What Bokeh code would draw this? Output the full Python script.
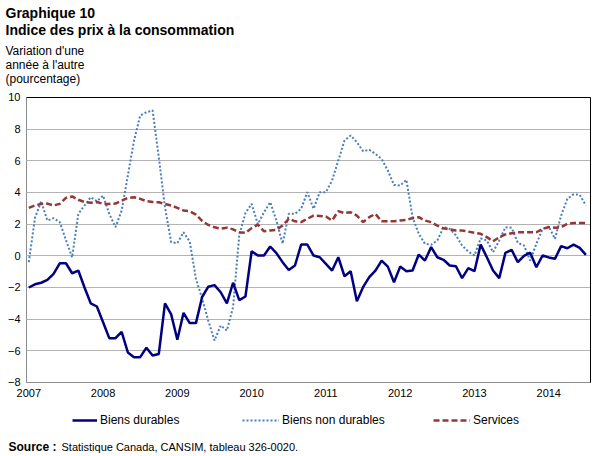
from bokeh.plotting import figure
from bokeh.models import Range1d, FixedTicker, Legend, LegendItem, Label, LinearAxis
from bokeh.embed import file_html
from bokeh.resources import INLINE
import pandas as pd

# Monthly data, January 2007 to July 2014 (year-over-year % change)
months = [str(m) for m in pd.period_range("2007-01", "2014-07", freq="M")]

biens_durables = [
    -2.0, -1.8, -1.7, -1.52, -1.14, -0.47, -0.47, -1.1, -0.93, -2.0, -3.0, -3.2,
    -4.2, -5.2, -5.2, -4.8, -6.1, -6.4, -6.4, -5.8, -6.3, -6.2, -3.0, -3.7,
    -5.3, -3.6, -4.25, -4.25, -2.6, -1.95, -1.85, -2.3, -3.0, -1.7, -2.8, -2.57,
    0.29, 0.02, 0.02, 0.59, 0.17, -0.4, -0.89, -0.61, 0.71, 0.71, 0.02, -0.09,
    -0.51, -0.93, -0.09, -1.29, -0.97, -2.87, -1.98, -1.35, -0.93, -0.3, -0.68, -1.67,
    -0.68, -0.97, -0.93, 0.08, -0.3, 0.55, -0.09, -0.25, -0.61, -0.66, -1.41, -0.78,
    -0.97, 0.71, -0.09, -0.93, -1.41, 0.19, 0.38, -0.4, 0.0, 0.2, -0.72, 0.02,
    -0.1, -0.19, 0.61, 0.48, 0.71, 0.5, 0.06,
]

biens_non_durables = [
    -0.4, 2.4, 3.45, 2.23, 2.38, 2.13, 1.0, -0.1, 2.65, 3.18, 3.7, 3.45,
    3.8, 2.65, 1.81, 2.86, 5.07, 7.28, 8.86, 9.07, 9.18, 6.23, 3.07, 0.86,
    0.8, 1.49, 0.9, -1.45, -2.7, -4.1, -5.35, -4.4, -4.72, -3.24, 1.3, 2.7,
    3.28, 2.0, 2.75, 3.39, 2.23, 0.76, 2.65, 2.65, 2.97, 4.02, 2.97, 4.02,
    4.02, 4.76, 6.02, 7.28, 7.6, 7.18, 6.61, 6.7, 6.44, 6.12, 5.39, 4.48,
    4.44, 4.8, 2.44, 1.39, 0.76, 0.7, 0.97, 1.81, 1.7, 1.3, 0.65, 0.27,
    0.02, 1.1, 0.97, 0.23, 0.97, 1.81, 1.77, 0.82, 0.65, -0.3, 0.76, 1.7,
    1.86, 1.07, 2.54, 3.6, 3.88, 3.86, 3.18,
]

services = [
    3.03, 3.18, 3.28, 3.3, 3.18, 3.28, 3.66, 3.75, 3.54, 3.4, 3.35, 3.4,
    3.28, 3.28, 3.3, 3.49, 3.66, 3.7, 3.6, 3.45, 3.4, 3.38, 3.28, 3.18,
    3.03, 2.86, 2.82, 2.6, 2.2, 1.95, 1.8, 1.72, 1.78, 1.67, 1.49, 1.45,
    1.75, 1.97, 1.55, 1.6, 1.64, 1.91, 2.34, 2.18, 2.13, 2.34, 2.54, 2.52,
    2.48, 2.23, 2.82, 2.7, 2.75, 2.54, 2.13, 2.44, 2.65, 2.18, 2.18, 2.18,
    2.23, 2.27, 2.38, 2.44, 2.23, 2.13, 1.91, 1.74, 1.68, 1.6, 1.6, 1.53,
    1.45, 1.39, 1.18, 0.92, 1.18, 1.35, 1.43, 1.49, 1.49, 1.49, 1.49, 1.7,
    1.81, 1.77, 1.81, 2.02, 2.08, 2.08, 2.08,
]

year_labels = ["2007", "2008", "2009", "2010", "2011", "2012", "2013", "2014"]
y_ticks = [-8, -6, -4, -2, 0, 2, 4, 6, 8, 10]
series_names = ["Biens durables", "Biens non durables", "Services"]
title_lines = ["Graphique 10", "Indice des prix à la consommation"]
caption_lines = ["Variation d'une", "année à l'autre", "(pourcentage)"]
source_head = "Source :"
source_text = "Statistique Canada, CANSIM, tableau 326-0020."

x = list(range(len(months)))
year_ticks = [months.index(y + "-01") for y in year_labels]

FONT = "Liberation Sans"
W, H = 607, 456

# the frame covers the whole page; the chart area is bounded by the axes below
X_LO, X_HI = -0.3716, 90.74          # chart area left / right edges (month index)
Y_LO, Y_HI = -8, 10                  # chart area bottom / top (percent)
p = figure(width=W, height=H, output_backend="svg", toolbar_location=None, title=None,
           x_range=Range1d(-4.572, 93.49), y_range=Range1d(-12.674, 16.126),
           min_border=0, min_border_left=0, min_border_right=0,
           min_border_top=0, min_border_bottom=0)
p.background_fill_color = "white"
p.border_fill_color = "white"
p.outline_line_color = None
p.xgrid.visible = False
p.ygrid.visible = False

# x axis at -8
xa = p.xaxis[0]
xa.fixed_location = Y_LO
xa.bounds = (X_LO, X_HI)
xa.ticker = FixedTicker(ticks=year_ticks)
xa.major_label_overrides = {t: l for t, l in zip(year_ticks, year_labels)}
xa.axis_line_color = "#8c8c8c"
xa.major_tick_in = 0
xa.major_tick_out = 0
xa.minor_tick_in = 0
xa.minor_tick_out = 0
xa.major_label_standoff = 7
xa.major_label_text_font = FONT
xa.major_label_text_font_size = "11px"
xa.major_label_text_color = "black"

# y axis; its long inward ticks form the horizontal gridlines
ya = p.yaxis[0]
ya.level = "underlay"
ya.fixed_location = X_LO
ya.bounds = (Y_LO, Y_HI)
ya.ticker = FixedTicker(ticks=y_ticks)
ya.axis_line_color = "#8c8c8c"
ya.major_tick_in = 564
ya.major_tick_out = 0
ya.major_tick_line_color = "#b3b3b3"
ya.minor_tick_in = 0
ya.minor_tick_out = 0
ya.major_label_standoff = 6
ya.major_label_text_font = FONT
ya.major_label_text_font_size = "11px"
ya.major_label_text_color = "black"

# black top and right border of the chart area
top = LinearAxis(fixed_location=Y_HI, bounds=(X_LO, X_HI), ticker=FixedTicker(ticks=[]),
                 axis_line_color="black", major_tick_in=0, major_tick_out=0,
                 minor_tick_in=0, minor_tick_out=0, major_label_text_font_size="0px")
right = LinearAxis(fixed_location=X_HI, bounds=(Y_LO, Y_HI), ticker=FixedTicker(ticks=[]),
                   axis_line_color="black", major_tick_in=0, major_tick_out=0,
                   minor_tick_in=0, minor_tick_out=0, major_label_text_font_size="0px")
p.add_layout(top, "above")
p.add_layout(right, "right")

r_nd = p.line(x, biens_non_durables, line_color="#4a7ebb", line_width=2, line_dash="2 2")
r_sv = p.line(x, services, line_color="#953735", line_width=2.5, line_dash="6 3")
r_d = p.line(x, biens_durables, line_color="#000080", line_width=2.5)

# legend: one small legend per series (screen px: x from left, y from bottom)
for rend, lab, lx, gw in [(r_d, series_names[0], 72, 25),
                          (r_nd, series_names[1], 242, 37),
                          (r_sv, series_names[2], 433, 37)]:
    lg = Legend(items=[LegendItem(label=lab, renderers=[rend])], location=(lx, H - 430),
                orientation="horizontal", glyph_width=gw, glyph_height=20, label_height=20,
                label_standoff=3, padding=0, margin=0, spacing=0,
                border_line_alpha=0, background_fill_alpha=0,
                label_text_font=FONT, label_text_font_size="12px", label_text_color="black")
    p.add_layout(lg, "center")

def txt(text, px, baseline_py, size, bold=False):
    p.add_layout(Label(x=px, y=H - baseline_py, x_units="screen", y_units="screen",
                       text=text, text_font=FONT, text_font_size=size,
                       text_font_style="bold" if bold else "normal",
                       text_color="black", text_baseline="alphabetic", text_align="left"))

txt(title_lines[0], 5, 12.5, "14px", True)
txt(title_lines[1], 5, 29.5, "14px", True)
for i, line in enumerate(caption_lines):
    txt(line, 5, 50 + 14 * i, "12px")
txt(source_head, 8, 446.5, "12px", True)
txt(source_text, 61, 446.5, "11px")

open("out.html", "w").write(file_html(p, INLINE))
